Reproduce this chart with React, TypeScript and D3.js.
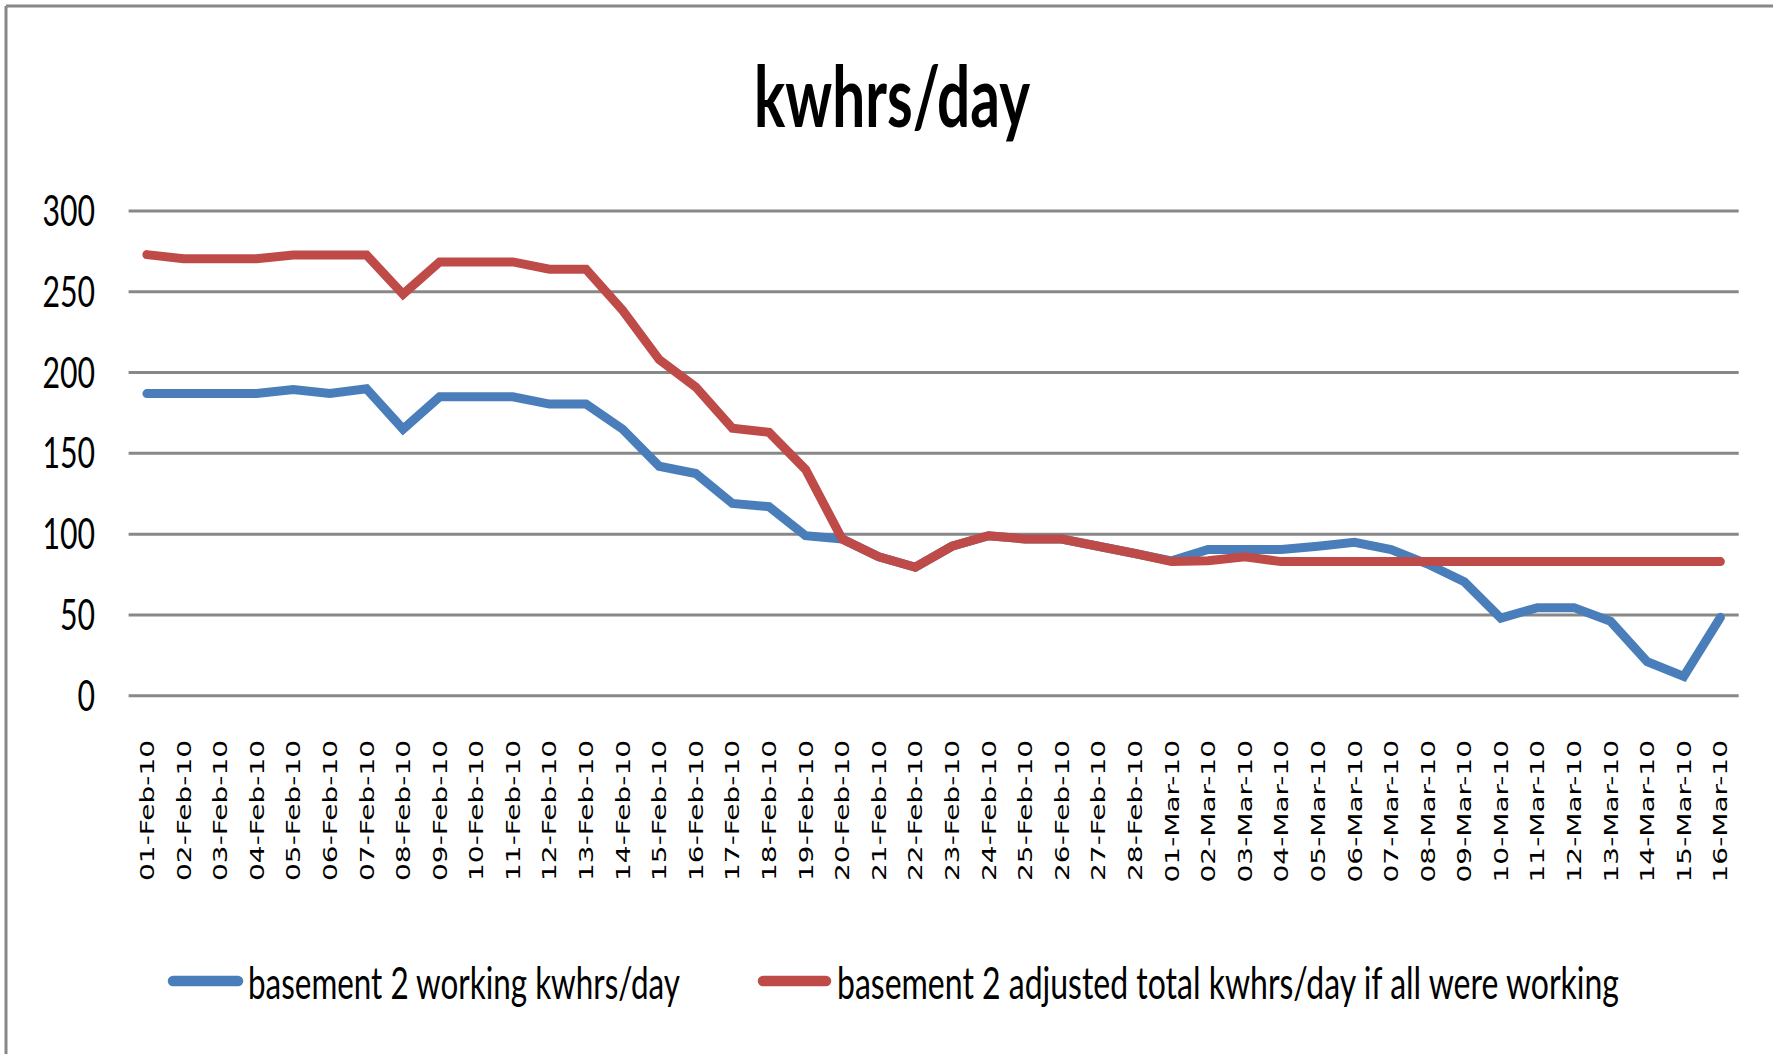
import React from 'react'
import * as d3 from 'd3'

// day labels on the category axis
const days = [
  '01-Feb-10', '02-Feb-10', '03-Feb-10', '04-Feb-10', '05-Feb-10', '06-Feb-10', '07-Feb-10',
  '08-Feb-10', '09-Feb-10', '10-Feb-10', '11-Feb-10', '12-Feb-10', '13-Feb-10', '14-Feb-10',
  '15-Feb-10', '16-Feb-10', '17-Feb-10', '18-Feb-10', '19-Feb-10', '20-Feb-10', '21-Feb-10',
  '22-Feb-10', '23-Feb-10', '24-Feb-10', '25-Feb-10', '26-Feb-10', '27-Feb-10', '28-Feb-10',
  '01-Mar-10', '02-Mar-10', '03-Mar-10', '04-Mar-10', '05-Mar-10', '06-Mar-10', '07-Mar-10',
  '08-Mar-10', '09-Mar-10', '10-Mar-10', '11-Mar-10', '12-Mar-10', '13-Mar-10', '14-Mar-10',
  '15-Mar-10', '16-Mar-10'
]

// basement 2 working kwhrs/day
const working = [
  187, 187, 187, 187, 189.5, 187, 190, 165, 185, 185, 185, 180.5, 180.5, 165,
  142, 137.5, 119, 117, 99, 97, 86, 79.5, 92.5, 99, 97, 97, 92.5, 88,
  83.5, 90.5, 90.5, 90.5, 92.5, 95, 90.5, 81.5, 70.5, 48, 54.5, 54.5, 46, 21, 12, 48.5
]

// basement 2 adjusted total kwhrs/day if all were working
const adjusted = [
  273, 270.5, 270.5, 270.5, 272.8, 272.8, 272.8, 248.5, 268.5, 268.5, 268.5, 264, 264, 238.5,
  208, 191, 165.5, 163, 140, 97, 86, 79.5, 92.5, 99, 97, 97, 92.5, 88,
  83, 83.5, 86, 83, 83, 83, 83, 83, 83, 83, 83, 83, 83, 83, 83, 83
]

const yTicks = [0, 50, 100, 150, 200, 250, 300]

const seriesNames = [
  'basement 2 working kwhrs/day',
  'basement 2 adjusted total kwhrs/day if all were working'
]
const seriesColors = ['#4a7ebb', '#be4b48']

const W = 1773, H = 1054
const plot = { left: 128.6, right: 1738.7, top: 211, bottom: 695.7 }
const squeeze = 0.7 // the original text is horizontally condensed

export default function App() {
  const x = d3.scaleBand<string>().domain(days).range([plot.left, plot.right])
  const y = d3.scaleLinear().domain([0, 300]).range([plot.bottom, plot.top])
  const cx = (d: string) => (x(d) as number) + x.bandwidth() / 2

  const line = d3.line<number>()
    .x((_, i) => cx(days[i]))
    .y(v => y(v))

  const series = [working, adjusted]
  const legend = [
    { sx: 173, ex: 238, tx: 248, len: 432 },
    { sx: 763, ex: 826, tx: 837, len: 782 }
  ]

  return (
    <svg width={W} height={H} style={{ position: 'absolute', left: 0, top: 0, background: '#fff' }}>
      {/* frame, only top and left edges show */}
      <line x1={6} y1={6} x2={W} y2={6} stroke="#888" strokeWidth={3} />
      <line x1={6} y1={6} x2={6} y2={H} stroke="#888" strokeWidth={3} />

      <text transform={`translate(754,127) scale(${squeeze},1)`} textLength={276 / squeeze}
        lengthAdjust="spacingAndGlyphs"
        fontFamily="Lato, 'Open Sans', sans-serif" fontWeight="bold" fontSize={84} fill="#000">
        kwhrs/day
      </text>

      {yTicks.map(t => (
        <g key={t}>
          <line x1={plot.left} x2={plot.right} y1={y(t)} y2={y(t)} stroke="#888" strokeWidth={3} />
          <text transform={`translate(95,${y(t)}) scale(0.72,1)`} dy="0.36em" textAnchor="end"
            fontFamily="Lato, 'Open Sans', sans-serif" fontSize={42} fill="#000">{t}</text>
        </g>
      ))}

      {days.map(d => (
        <text key={d} transform={`translate(${cx(d)},740) scale(0.7,1) rotate(-90)`} dy="0.36em"
          textAnchor="end" fontFamily="'DejaVu Sans', sans-serif" fontSize={28} fill="#000">{d}</text>
      ))}

      {series.map((s, i) => (
        <path key={i} d={line(s) as string} fill="none" stroke={seriesColors[i]} strokeWidth={9}
          strokeLinejoin="miter" strokeLinecap="round" />
      ))}

      {/* legend */}
      {legend.map((l, i) => (
        <g key={i}>
          <line x1={l.sx} x2={l.ex} y1={981} y2={981} stroke={seriesColors[i]} strokeWidth={10.5}
            strokeLinecap="round" />
          <text transform={`translate(${l.tx},999) scale(${squeeze},1)`} textLength={l.len / squeeze}
            lengthAdjust="spacingAndGlyphs"
            fontFamily="Lato, 'Open Sans', sans-serif" fontSize={44} fill="#000">{seriesNames[i]}</text>
        </g>
      ))}
    </svg>
  )
}
